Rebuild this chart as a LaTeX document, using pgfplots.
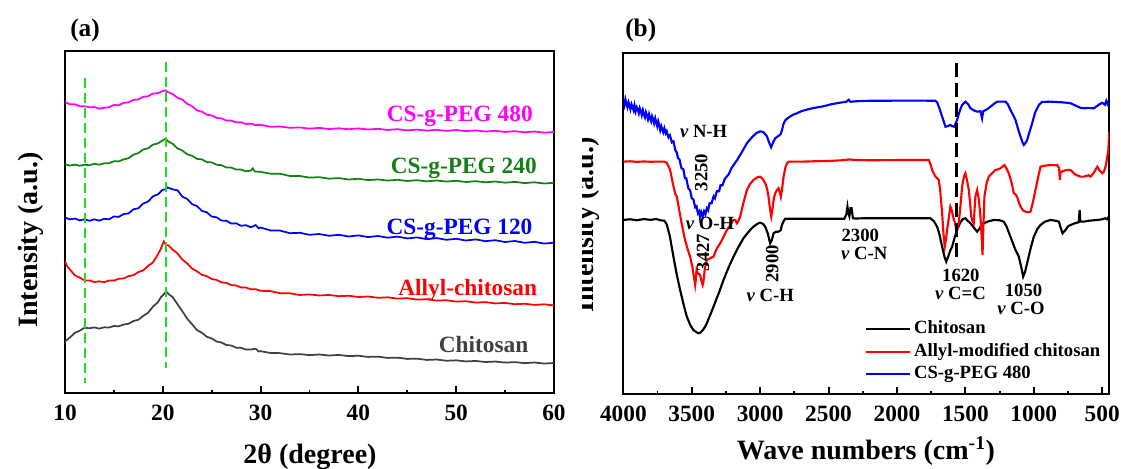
\documentclass[border=0pt]{standalone}
\usepackage{pgfplots}
\pgfplotsset{compat=1.18}
\usepackage{fontspec}
\setmainfont{Liberation Serif}
\newfontface\tickbf{Liberation Serif Bold}

\definecolor{cgray}{RGB}{64,64,64}
\definecolor{cgreen}{RGB}{20,128,20}
\definecolor{cmag}{RGB}{255,0,255}
\definecolor{cred}{RGB}{255,0,0}
\definecolor{cblue}{RGB}{0,0,255}
\definecolor{guide}{RGB}{30,225,30}

\pgfplotsset{
  spec/.style={
    scale only axis,
    axis line style={line width=1.6pt},
    tick style={line width=1.4pt, black},
    tick align=inside,
    xtick pos=left,
    ytick=\empty,
    major tick length=5.8pt,
    minor tick length=2.6pt,
    minor x tick num=1,
    xticklabel style={font=\tickbf\fontsize{17.5}{17.5}\selectfont, inner sep=0pt, yshift=-8.6pt},
  },
}
\tikzset{
  tag/.style={font=\bfseries\fontsize{17.5}{19}\selectfont, anchor=base east, inner sep=0pt},
  note/.style={font=\bfseries\fontsize{14}{16}\selectfont, inner sep=0pt},
}

\begin{document}
\begin{tikzpicture}
\path[use as bounding box] (0,0) rectangle (840.75pt,351pt);

% ---------------- (a) XRD patterns ----------------
\begin{axis}[spec,
  at={(48.75pt,56pt)}, anchor=south west,
  width=366.75pt, height=257pt,
  xmin=10, xmax=60, ymin=0, ymax=342.6,
  xtick={10,20,30,40,50,60},
  xticklabels={10,20,30,40,50,60},
]
\addplot[cgray, line width=1.3pt] coordinates {
(10.0,51.9) (10.5,55.8) (11.0,60.4) (11.5,62.6) (12.0,65.6) (12.5,65.1) (13.0,65.9) (13.5,64.7) (14.0,66.0) (14.5,65.8)
(15.0,67.3) (15.5,67.0) (16.0,68.8) (16.5,69.6) (17.0,72.3) (17.5,73.6) (18.0,77.4) (18.5,80.6) (19.0,86.7) (19.5,91.1)
(19.8,96.0) (20.1,99.1) (20.35,101.9) (20.6,99.1) (21.0,96.3) (21.5,89.1) (22.0,82.0) (22.5,74.6) (23.0,69.0) (23.5,63.2)
(24.0,60.5) (24.5,56.6) (25.0,54.9) (25.5,51.8) (26.0,50.8) (26.5,48.3) (27.0,47.8) (27.5,45.6) (28.0,45.5) (28.5,43.7)
(29.0,43.8) (29.5,44.6) (29.8,41.8) (30.0,42.2) (31,40.3) (32,40.2) (33,38.8) (34,39.2) (35,38.2) (36,38.8) (37,37.8)
(38,38.4) (39,37.2) (40,37.6) (41,36.4) (42,36.7) (43,35.4) (44,35.7) (45,34.4) (46,34.7) (47,33.4) (48,33.8) (49,32.6)
(50,33.0) (51,31.9) (52,32.4) (53,31.3) (54,31.8) (55,30.7) (56,31.2) (57,30.2) (58,30.8) (59,29.8) (60,30.3)};
\addplot[cred, line width=1.3pt] coordinates {
(10.0,131.9) (10.25,126.6) (10.5,123.9) (11.0,118.0) (11.5,115.7) (12.0,113.0) (12.5,112.8) (13.0,111.3) (13.5,112.0)
(14.0,111.2) (14.5,112.7) (15.0,112.7) (15.5,114.6) (16.0,114.8) (16.5,117.2) (17.0,118.1) (17.5,121.2) (18.0,123.0)
(18.5,127.4) (19.0,131.0) (19.5,138.9) (19.8,144.6) (20.1,151.9) (20.3,148.4) (20.6,147.9) (21.0,143.7) (21.5,139.9)
(22.0,133.8) (22.5,129.9) (23.0,124.7) (23.5,122.0) (24.0,118.5) (24.5,117.2) (25.0,114.3) (25.5,113.4) (26.0,110.9)
(26.5,110.4) (27.0,108.2) (27.5,107.9) (28.0,105.9) (28.5,105.8) (29.0,104.0) (29.5,104.1) (30.0,102.5) (31,102.2)
(32,100.1) (33,100.0) (34,98.3) (35,98.9) (36,97.8) (37,98.4) (38,97.1) (39,97.6) (40,96.3) (41,96.8) (42,95.5) (43,96.0)
(44,94.7) (45,95.1) (46,93.7) (47,94.1) (48,92.7) (49,93.1) (50,91.7) (51,92.1) (52,90.7) (53,91.2) (54,89.9) (55,90.4)
(56,89.1) (57,89.6) (58,88.4) (59,89.0) (60,87.9)};
\addplot[cblue, line width=1.3pt] coordinates {
(10.0,175.9) (10.5,173.9) (11.0,174.8) (11.5,172.9) (12.0,174.0) (12.5,172.5) (13.0,174.0) (13.5,172.6) (14.0,174.5)
(14.5,174.0) (15.0,176.8) (15.5,176.4) (16.0,179.2) (16.5,179.9) (17.0,184.0) (17.5,185.0) (18.0,189.8) (18.5,191.7)
(19.0,197.0) (19.5,198.9) (20.0,203.6) (20.3,203.9) (20.5,205.8) (21.0,203.9) (21.5,203.0) (22.0,196.6) (22.5,194.3)
(23.0,189.1) (23.5,187.2) (24.0,182.4) (24.5,181.0) (25.0,176.7) (25.5,176.0) (26.0,172.7) (26.5,172.6) (27.0,169.7)
(27.5,170.0) (28.0,167.5) (28.5,168.1) (29.0,166.0) (29.5,168.2) (29.8,165.0) (30.0,165.8) (31,162.9) (32,162.7)
(33,160.1) (34,160.5) (35,158.5) (36,159.3) (37,157.5) (38,158.5) (39,156.8) (40,157.9) (41,156.2) (42,157.3) (43,155.6)
(44,156.7) (45,154.9) (46,155.9) (47,154.1) (48,155.2) (49,153.5) (50,154.5) (51,152.8) (52,153.9) (53,152.1) (54,153.1)
(55,151.3) (56,152.3) (57,150.5) (58,151.5) (59,149.7) (60,150.6)};
\addplot[cgreen, line width=1.3pt] coordinates {
(10.0,228.9) (10.5,227.7) (11.0,228.7) (11.5,227.5) (12.0,228.6) (12.5,228.0) (13.0,229.5) (13.5,228.6) (14.0,229.9)
(14.5,230.1) (15.0,232.0) (15.5,231.9) (16.0,233.9) (16.5,235.1) (17.0,238.6) (17.5,240.2) (18.0,243.8) (18.5,245.0)
(19.0,248.7) (19.5,249.8) (20.0,253.0) (20.3,254.6) (20.5,252.2) (21.0,249.5) (21.5,244.9) (22.0,242.7) (22.5,239.0)
(23.0,237.5) (23.5,234.4) (24.0,233.9) (24.5,231.2) (25.0,230.9) (25.5,228.5) (26.0,228.1) (26.5,225.8) (27.0,225.7)
(27.5,223.7) (28.0,223.7) (28.5,222.0) (29.0,222.7) (29.2,225.0) (29.4,221.8) (30.0,221.4) (31,219.6) (32,219.5)
(33,217.3) (34,217.3) (35,215.7) (36,216.1) (37,214.6) (38,215.2) (39,213.8) (40,214.5) (41,213.2) (42,213.9) (43,212.7)
(44,213.5) (45,212.3) (46,213.1) (47,211.9) (48,212.8) (49,211.7) (50,212.5) (51,211.3) (52,212.1) (53,211.0) (54,211.8)
(55,210.6) (56,211.4) (57,210.2) (58,211.0) (59,209.8) (60,210.5)};
\addplot[cmag, line width=1.3pt] coordinates {
(10.0,291.2) (10.5,289.0) (11.0,289.0) (11.5,287.1) (12.0,287.1) (12.5,285.9) (13.0,286.3) (13.5,284.6) (14.0,285.5)
(14.5,286.0) (15.0,288.2) (15.5,288.1) (16.0,290.5) (16.5,290.9) (17.0,293.4) (17.5,293.8) (18.0,296.5) (18.5,297.0)
(19.0,299.8) (19.5,300.0) (20.0,302.3) (20.3,302.9) (20.5,301.2) (21.0,299.3) (21.5,295.5) (22.0,293.7) (22.5,289.4)
(23.0,287.1) (23.5,282.8) (24.0,281.7) (24.5,278.6) (25.0,277.9) (25.5,275.4) (26.0,274.9) (26.5,272.7) (27.0,272.7)
(27.5,270.9) (28.0,271.1) (28.5,269.3) (29.0,269.7) (29.5,268.1) (30.0,268.5) (31,266.5) (32,266.8) (33,265.4)
(34,265.9) (35,264.6) (36,265.4) (37,264.2) (38,265.0) (39,264.0) (40,264.9) (41,263.7) (42,264.5) (43,263.3) (44,264.1)
(45,262.9) (46,263.7) (47,262.6) (48,263.5) (49,262.4) (50,263.3) (51,262.1) (52,262.9) (53,261.7) (54,262.5) (55,261.3)
(56,262.1) (57,261.0) (58,261.8) (59,260.6) (60,261.3)};
% guide lines at the two diffraction maxima
\addplot[guide, line width=1.5pt, dash pattern=on 7.5pt off 3.75pt] coordinates {(12,315) (12,10)};
\addplot[guide, line width=1.5pt, dash pattern=on 7.5pt off 3.75pt] coordinates {(20.33,331) (20.33,25)};
\node[tag, cmag]   at (axis cs:57.85,271.6) {CS-g-PEG 480};
\node[tag, cgreen] at (axis cs:58.26,219.3) {CS-g-PEG 240};
\node[tag, cblue]  at (axis cs:57.82,159.3) {CS-g-PEG 120};
\node[tag, cred]   at (axis cs:58.30,98.3) {Allyl-chitosan};
\node[tag, cgray]  at (axis cs:57.40,40.6) {Chitosan};
\end{axis}

% ---------------- (b) FTIR spectra ----------------
\begin{axis}[spec,
  at={(467.5pt,55.3pt)}, anchor=south west,
  width=364.3pt, height=255.75pt,
  x dir=reverse, xmin=450, xmax=4000, ymin=0, ymax=341,
  xtick={500,1000,1500,2000,2500,3000,3500,4000},
  xticklabels={500,1000,1500,2000,2500,3000,3500,4000},
  legend style={at={(0.4976,0.217)}, anchor=north west, draw=none, fill=none,
    inner sep=0pt, row sep=3.8pt,
    nodes={inner sep=0pt, text height=10pt, text depth=3pt},
    font=\bfseries\fontsize{14}{16}\selectfont},
  /tikz/every odd column/.append style={column sep=2pt},
  legend cell align=left,
  legend image code/.code={\draw[#1, line width=1.6pt] (0pt,0pt) -- (33pt,0pt);},
]
\addplot[black, line width=1.6pt] coordinates {
(4000,174.3) (3950,175) (3900,174) (3850,175.2) (3800,174.4) (3760,175.3) (3730,174) (3700,173.5) (3683,170) (3660,158)
(3634,137.6) (3610,120) (3585,104.3) (3560,90) (3536,77.6) (3510,69) (3488,64.3) (3465,62) (3450,61) (3439,61.5) (3420,64)
(3400,68) (3390,71) (3360,81) (3341,87.6) (3300,102) (3268,114.3) (3230,127) (3195,137.6) (3160,147) (3122,156) (3085,162.5)
(3049,167.6) (3020,170.5) (3000,171.6) (2980,170.5) (2963,167.6) (2945,161) (2927,151) (2915,154) (2902,161) (2885,162.5)
(2866,162.6) (2850,164) (2841,169.3) (2825,174) (2817,175.5) (2700,175.5) (2500,175.5) (2385,175.5) (2370,180) (2362,187.6)
(2355,181) (2348,178) (2340,186) (2332,186) (2322,176) (2300,175.7) (2250,176) (2100,176) (1900,176) (1756,176) (1730,173)
(1707,167.6) (1690,160) (1670,147.6) (1652,137) (1640,132.6) (1625,138) (1610,144) (1597,147.6) (1580,156) (1561,164.3)
(1540,171) (1520,175) (1500,176) (1480,173) (1463,171) (1440,167) (1414,162.6) (1395,166) (1380,170) (1366,171) (1330,173)
(1293,174.3) (1250,174) (1220,172.6) (1200,168) (1171,157.6) (1150,150) (1134,144.3) (1110,137.6) (1090,126) (1078,117.6)
(1065,122) (1049,131) (1025,145) (1000,157.6) (975,165) (951,169.3) (920,172.5) (878,174.3) (840,173.5) (817,172.6)
(805,167) (790,161) (770,164) (750,168) (731,169.3) (700,171) (672,172) (665,184.3) (660,172.6) (634,172.6) (600,173.5)
(536,174.3) (500,175) (480,176) (465,175) (451,177.6)};
\addlegendentry{Chitosan}
\addplot[cred, line width=1.6pt] coordinates {
(4000,232.6) (3950,233) (3900,232.4) (3850,232.8) (3800,232.5) (3750,232.7) (3700,232.6) (3683,231.5) (3670,228)
(3658,224.3) (3640,212) (3620,200) (3609,197.6) (3590,183) (3570,168) (3550,155) (3530,145) (3512,137.6) (3495,127)
(3485,118) (3478,112) (3475,109.3) (3470,115) (3465,124.3) (3455,121) (3439,119.3) (3430,114) (3420,109.3) (3415,112)
(3405,125) (3390,134.3) (3360,136.5) (3341,137.6) (3320,145) (3292,151) (3270,157) (3243,164.3) (3220,169) (3195,174.3)
(3180,174) (3170,171) (3160,173) (3146,177.6) (3125,190) (3097,204.3) (3075,210) (3049,214.3) (3020,217) (3000,217.6)
(2980,215) (2963,211) (2950,206) (2939,197.6) (2928,185) (2919,177.6) (2910,185) (2900,196) (2890,201) (2878,204)
(2866,206) (2856,202) (2849,197.6) (2840,205) (2829,217.6) (2815,227) (2804,231) (2790,232.6) (2700,232.6) (2600,233)
(2500,233.3) (2400,234) (2350,234.8) (2300,234.3) (2200,234) (2000,234.2) (1800,234.3) (1768,234.3) (1755,230) (1743,224.3)
(1720,218) (1695,214.3) (1685,205) (1670,181) (1660,160) (1651,147.6) (1642,155) (1634,164.3) (1622,176) (1610,187.6)
(1600,184) (1590,177.6) (1578,172) (1566,164.3) (1557,166) (1549,171) (1535,190) (1524,207.6) (1510,218) (1500,221)
(1488,214) (1475,204.3) (1465,190) (1457,177.6) (1448,173) (1439,171) (1433,185) (1427,197.6) (1414,204.3) (1402,195)
(1390,177.6) (1382,160) (1375,139.3) (1368,170) (1361,197.6) (1345,211) (1329,217.6) (1305,221) (1280,224.3) (1260,225)
(1244,226) (1230,227.5) (1215,229.3) (1200,226) (1183,221) (1165,213) (1146,201) (1135,200) (1122,197.6) (1110,192)
(1097,187.6) (1080,184) (1061,182.6) (1040,182) (1024,182.6) (1005,193) (988,204.3) (970,216) (951,227.6) (920,228.6)
(878,229.3) (850,229) (829,229.3) (815,226) (810,214.3) (805,222) (790,223) (760,224.3) (731,224.3) (700,220) (660,217.6)
(634,217.6) (600,219) (585,217.6) (560,222) (536,227.6) (520,224) (500,221) (488,222.6) (475,228) (463,237.6) (455,245)
(449,262.6)};
\addlegendentry{Allyl-modified chitosan}
\addplot[cblue, line width=1.6pt] coordinates {
(4000,293) (3992,289) (3985,295) (3978,291) (3970,287) (3962,292) (3955,289) (3948,285) (3940,290) (3932,287) (3925,284)
(3918,289) (3910,283) (3902,287) (3895,285) (3887,281) (3880,286) (3872,283) (3865,279) (3857,284) (3850,280) (3842,277)
(3835,282) (3827,279) (3820,275) (3812,280) (3805,276) (3797,273) (3790,278) (3782,275) (3775,271) (3767,276) (3760,272)
(3752,268) (3745,273) (3737,269) (3730,264) (3722,268) (3715,265) (3708,262) (3700,266) (3690,261) (3683,263) (3670,257)
(3660,259) (3645,252) (3634,253) (3620,244) (3610,242) (3600,236) (3590,235) (3575,226) (3561,225) (3550,216) (3540,216)
(3525,206) (3512,204) (3500,196) (3488,195) (3475,187) (3465,188) (3455,181) (3445,183) (3440,177) (3430,182) (3420,178)
(3410,183) (3400,180) (3390,186) (3380,184) (3370,191) (3355,191) (3340,198) (3330,196) (3317,203) (3300,203) (3290,209)
(3275,209) (3260,215) (3243,218) (3230,220) (3210,226) (3170,234) (3130,243) (3097,251) (3060,257) (3030,261) (3000,263)
(2975,262) (2951,258) (2935,252) (2920,247) (2905,252) (2890,256) (2870,258) (2850,260) (2841,264) (2830,270) (2817,274)
(2790,277) (2760,279.5) (2731,281) (2700,283) (2650,285) (2600,286.5) (2537,288) (2480,290) (2420,291.5) (2370,292.5)
(2354,294.5) (2340,292.5) (2300,293) (2200,293.5) (2000,293.6) (1800,293.6) (1720,293.5) (1707,292) (1690,286)
(1670,277.6) (1646,267.6) (1630,268) (1610,269.3) (1595,268) (1581,267.6) (1561,274.3) (1540,284) (1524,289.3)
(1500,292.6) (1480,290) (1463,286) (1440,284) (1414,282.6) (1390,283) (1378,276) (1370,283) (1340,285) (1317,287.6)
(1290,290.5) (1268,292.6) (1207,292.6) (1190,290) (1171,284.3) (1150,279) (1134,274.3) (1110,263) (1097,257.6) (1080,251)
(1073,249.3) (1060,251.5) (1049,254.3) (1030,263) (1012,271) (990,282) (963,289.3) (940,292.3) (878,292.6) (800,292)
(760,291.5) (731,291) (700,289) (660,286.5) (634,286) (600,286.2) (561,286) (540,288) (520,290) (500,291.5) (480,289.5)
(470,293.5) (460,290) (451,292.5)};
\addlegendentry{CS-g-PEG 480}
% marker line for the C=C band
\addplot[black, line width=1.8pt, dash pattern=on 10pt off 5pt, forget plot] coordinates {(1566,331) (1566,131)};
\node[note] at (axis cs:3413,262.3) {{\itshape ν} N-H};
\node[note, rotate=90] at (axis cs:3431,221.8) {3250};
\node[note] at (axis cs:3366,171.3) {{\itshape ν} O-H};
\node[note, rotate=90] at (axis cs:3417,141.8) {3427};
\node[note, rotate=90] at (axis cs:2912,130.3) {2900};
\node[note] at (axis cs:2926,99.3) {{\itshape ν} C-H};
\node[note] at (axis cs:2268,158.8) {2300};
\node[note] at (axis cs:2239,141.3) {{\itshape ν} C-N};
\node[note] at (axis cs:1533,118.8) {1620};
\node[note] at (axis cs:1536,100.8) {{\itshape ν} C=C};
\node[note] at (axis cs:1075,104.3) {1050};
\node[note] at (axis cs:1094,85.8) {{\itshape ν} C-O};
\end{axis}

% axis titles and panel letters
\node[font=\bfseries\fontsize{19}{22}\selectfont, anchor=base west, inner sep=0pt] at (52.5pt,323.25pt) {(a)};
\node[font=\bfseries\fontsize{19}{22}\selectfont, anchor=base west, inner sep=0pt] at (468.75pt,323.25pt) {(b)};
\node[font=\bfseries\fontsize{21}{24}\selectfont, anchor=base, inner sep=0pt] at (232.5pt,3.5pt) {2θ (degree)};
\node[font=\bfseries\fontsize{21}{24}\selectfont, anchor=base, inner sep=0pt] at (649.5pt,6.5pt) {Wave numbers (cm\textsuperscript{-1})};
\node[font=\bfseries\fontsize{21}{24}\selectfont, anchor=base, inner sep=0pt, rotate=90] at (27.75pt,171pt) {Intensity (a.u.)};
\begin{scope}
  \clip (436.5pt,0pt) rectangle (467pt,351pt);
  \node[font=\bfseries\fontsize{21}{24}\selectfont, anchor=base, inner sep=0pt, rotate=90] at (444.75pt,182.25pt) {Intensity (a.u.)};
\end{scope}
\end{tikzpicture}
\end{document}
